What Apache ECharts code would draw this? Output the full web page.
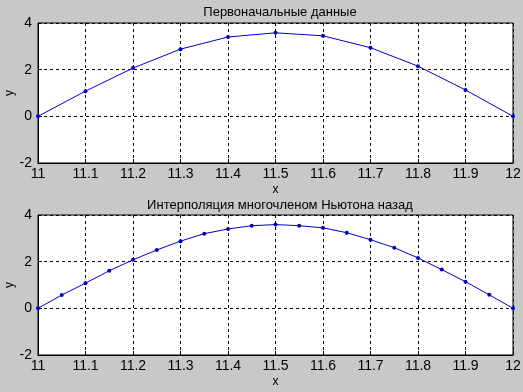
<!DOCTYPE html>
<html><head><meta charset="utf-8">
<script src="https://cdn.jsdelivr.net/npm/echarts@6/dist/echarts.min.js"></script>
<style>html,body{margin:0;padding:0;background:#c8c8c8;}#c{width:523px;height:392px;}</style>
</head><body><div id="c"></div>
<script>
var titleTop = 'Первоначальные данные';
var titleBottom = 'Интерполяция многочленом Ньютона назад';
var xTop = [11, 11.1, 11.2, 11.3, 11.4, 11.5, 11.6, 11.7, 11.8, 11.9, 12];
var yTop = [0, 1.08, 2.07, 2.88, 3.40, 3.58, 3.45, 2.94, 2.15, 1.13, 0];
var xBottom = [11, 11.05, 11.1, 11.15, 11.2, 11.25, 11.3, 11.35, 11.4, 11.45, 11.5, 11.55, 11.6, 11.65, 11.7, 11.75, 11.8, 11.85, 11.9, 11.95, 12];
var yBottom = [0, 0.57, 1.08, 1.61, 2.08, 2.50, 2.88, 3.20, 3.40, 3.54, 3.59, 3.54, 3.45, 3.24, 2.94, 2.60, 2.16, 1.66, 1.14, 0.58, 0];
var yTicks = [-2, 0, 2, 4];

var chart = echarts.init(document.getElementById('c'));
var font = 'Liberation Sans, Arial, sans-serif';
function xAxis(i){
  return {gridIndex:i, type:'value', min:11, max:12, interval:0.1,
    name:'x', nameLocation:'middle', nameGap:21, nameMoveOverlap:false,
    nameTextStyle:{color:'#000', fontSize:12, fontFamily:font},
    axisLine:{show:true, onZero:false, lineStyle:{color:'#000', width:1}},
    axisTick:{show:true, inside:true, length:4, lineStyle:{color:'#000'}},
    axisLabel:{color:'#000', fontSize:14, fontFamily:font, margin:4,
      formatter:function(v){return String(Math.round(v*10)/10);}},
    splitLine:{show:true, lineStyle:{color:'#000', type:[3,3], width:1}}};
}
function yAxis(i){
  return {gridIndex:i, type:'value', min:-2, max:4, interval:2,
    name:'y', nameLocation:'middle', nameGap:22, nameRotate:90, nameMoveOverlap:false,
    nameTextStyle:{color:'#000', fontSize:12, fontFamily:font},
    axisLine:{show:true, lineStyle:{color:'#000', width:1}},
    axisTick:{show:true, inside:true, length:4, lineStyle:{color:'#000'}},
    axisLabel:{color:'#000', fontSize:14, fontFamily:font, margin:6},
    splitLine:{show:true, lineStyle:{color:'#000', type:[3,3], width:1}}};
}
function pairs(xs, ys){ return xs.map(function(x,i){return [x, ys[i]];}); }
var ser = function(i, xs, ys){
  return {type:'line', xAxisIndex:i, yAxisIndex:i, data:pairs(xs, ys),
    symbol:'circle', symbolSize:4, lineStyle:{color:'#0000cc', width:1},
    itemStyle:{color:'#0000cc'}, animation:false};
};
chart.setOption({
  backgroundColor:'#c8c8c8',
  animation:false,
  title:[
    {text:titleTop, left:275, textAlign:'center', top:1, textStyle:{fontSize:13, fontWeight:'normal', color:'#000', fontFamily:font}},
    {text:titleBottom, left:275, textAlign:'center', top:194, textStyle:{fontSize:13, fontWeight:'normal', color:'#000', fontFamily:font}}
  ],
  grid:[
    {left:38, right:10, top:23, height:140, show:true, backgroundColor:'#fff', borderColor:'#000', borderWidth:1, containLabel:false, outerBoundsMode:'none'},
    {left:38, right:10, top:215, height:140, show:true, backgroundColor:'#fff', borderColor:'#000', borderWidth:1, containLabel:false, outerBoundsMode:'none'}
  ],
  xAxis:[xAxis(0), xAxis(1)],
  yAxis:[yAxis(0), yAxis(1)],
  series:[ser(0, xTop, yTop), ser(1, xBottom, yBottom)]
});
</script></body></html>
